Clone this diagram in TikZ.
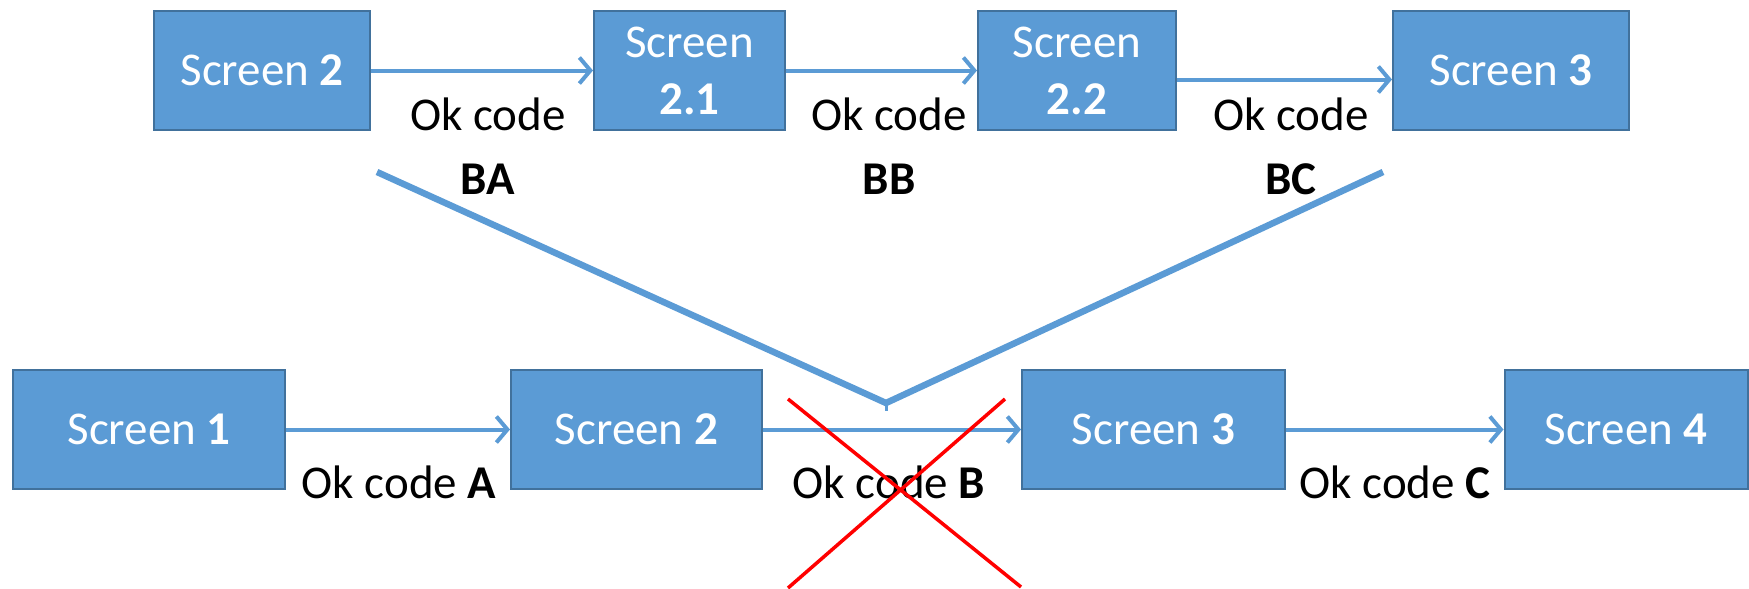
\documentclass[tikz,border=0pt]{standalone}
\usepackage{fontspec}
\setmainfont{Carlito}
\usetikzlibrary{arrows.meta,calc}
\definecolor{boxfill}{HTML}{5B9BD5}
\definecolor{boxline}{HTML}{41719C}
\begin{document}
\begin{tikzpicture}[x=1pt,y=-1pt,
  scr/.style={draw=boxline, line width=2pt, fill=boxfill, text=white,
    font=\fontsize{47}{57}\selectfont, align=center, inner sep=0pt, minimum height=119pt},
  arr/.style={draw=boxfill, line width=4pt, -{Straight Barb[length=11pt,width=26pt]}},
  lbl/.style={font=\fontsize{47}{64}\selectfont, align=center, inner sep=0pt},
  vline/.style={draw=boxfill, line width=6.5pt},
  cross/.style={draw=red, line width=3.5pt}
]
\useasboundingbox (0,0) rectangle (1749,589);
% top row
\node[scr, minimum width=216pt] (t2) at (262,70.5) {Screen \textbf{2}};
\node[scr, minimum width=191pt] (t21) at (689.5,70.5) {Screen\\\textbf{2.1}};
\node[scr, minimum width=198pt] (t22) at (1077,70.5) {Screen\\\textbf{2.2}};
\node[scr, minimum width=236pt] (t3) at (1511,70.5) {Screen \textbf{3}};
\draw[arr] (t2) -- (t21);
\draw[arr] (t21) -- (t22);
\draw[arr] ($(t22.east)+(0,9)$) -- ($(t3.west)+(0,9)$);
\node[lbl] (lba) at (488,146) {Ok code\\\textbf{BA}};
\node[lbl] (lbb) at (889,146) {Ok code\\\textbf{BB}};
\node[lbl] (lbc) at (1291,146) {Ok code\\\textbf{BC}};
% bottom row
\node[scr, minimum width=272pt] (b1) at (149,429.5) {Screen \textbf{1}};
\node[scr, minimum width=251pt] (b2) at (636.5,429.5) {Screen \textbf{2}};
\node[scr, minimum width=263pt] (b3) at (1153.5,429.5) {Screen \textbf{3}};
\node[scr, minimum width=243pt] (b4) at (1626,429.5) {Screen \textbf{4}};
\draw[arr] (b1) -- (b2);
\draw[arr] (b2) -- (b3);
\draw[arr] (b3) -- (b4);
\node[lbl] (la) at (399,482) {Ok code \textbf{A}};
\node[lbl] (lb) at (889,482) {Ok code \textbf{B}};
\node[lbl] (lc) at (1395,482) {Ok code \textbf{C}};
% V line
\coordinate (v1) at (377,172);
\coordinate (v2) at (886,403);
\coordinate (v3) at (1383,172);
\coordinate (v4) at (886,411);
\draw[vline] (v1) -- (v2) -- (v3);
\draw[draw=boxfill, line width=3pt] (v2) -- (v4);
% red cross
\coordinate (x1) at (788,399);
\coordinate (x2) at (1021,587);
\coordinate (x3) at (788,588);
\coordinate (x4) at (1005,399);
\draw[cross] (x1) -- (x2);
\draw[cross] (x3) -- (x4);
\end{tikzpicture}
\end{document}
